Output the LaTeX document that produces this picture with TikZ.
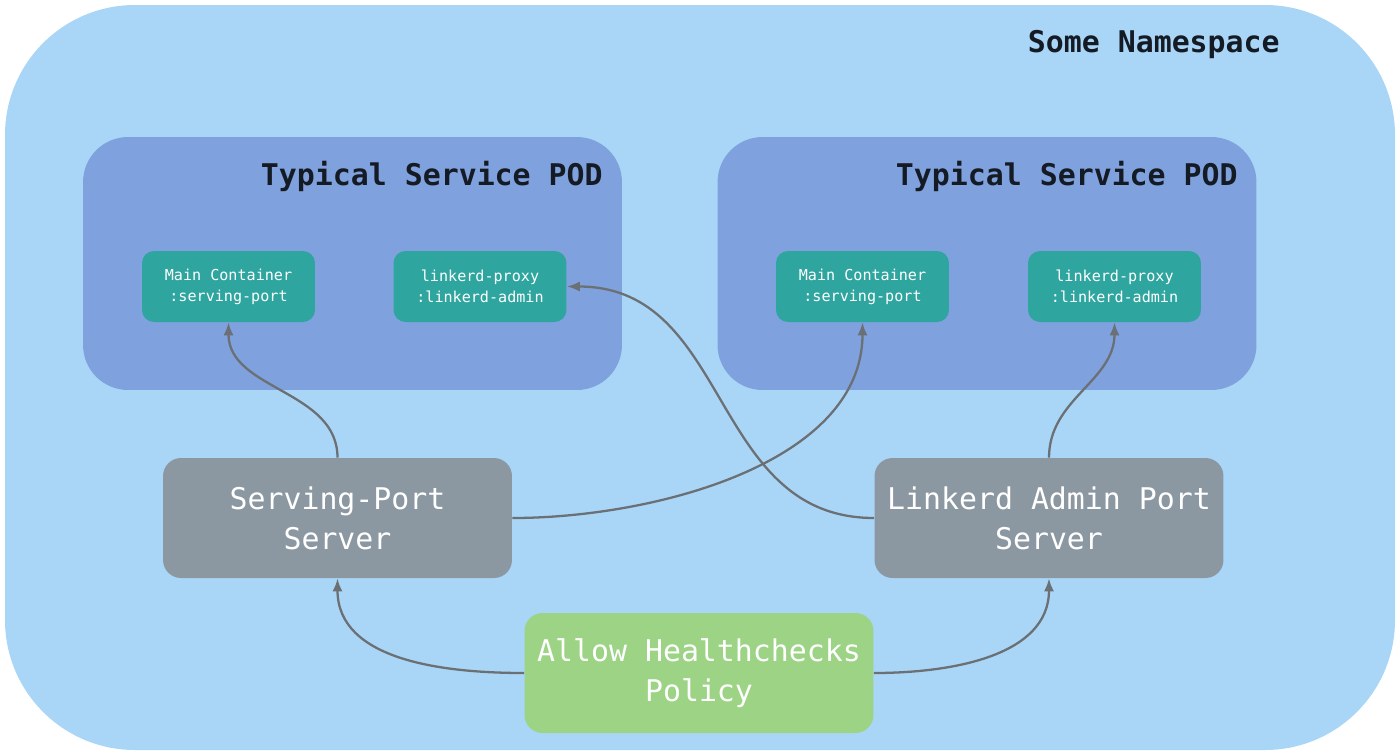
\documentclass[tikz,border=0pt]{standalone}
\usepackage{fontspec}
\setmonofont{DejaVu Sans Mono}
\usetikzlibrary{arrows.meta}
\tikzset{>=latex}

\definecolor{nsblue}{HTML}{A9D6F6}
\definecolor{podblue}{HTML}{7FA1DD}
\definecolor{ctrteal}{HTML}{2EA59F}
\definecolor{srvgray}{HTML}{8C98A1}
\definecolor{polgreen}{HTML}{9CD385}
\definecolor{linkgray}{HTML}{6B7075}
\definecolor{titleink}{HTML}{151B24}

\tikzset{
  podbox/.style={fill=podblue, rounded corners=0.9cm, minimum width=10.78cm, minimum height=5.06cm, inner sep=0},
  ctrbox/.style={fill=ctrteal, rounded corners=0.24cm, minimum width=3.46cm, minimum height=1.42cm, inner sep=0,
    text=white, align=center, font=\ttfamily\fontsize{8.6}{11.9}\selectfont},
  srvbox/.style={fill=srvgray, rounded corners=0.36cm, minimum width=6.98cm, minimum height=2.4cm, inner sep=0,
    text=white, align=center, font=\ttfamily\fontsize{17}{22.7}\selectfont},
  polbox/.style={srvbox, fill=polgreen},
  boxtitle/.style={anchor=east, inner sep=0, text=titleink, font=\ttfamily\bfseries\fontsize{17}{20}\selectfont},
  link/.style={->, >={Latex[length=2.6mm, width=2mm]}, draw=linkgray, line width=1.3pt}
}

\begin{document}
\begin{tikzpicture}[x=0.02cm, y=-0.02cm]

% Zone de dessin (1400 x 755 px)
\useasboundingbox (0,0) rectangle (1400,755);

% Namespace
\fill [nsblue, rounded corners=2.6cm] (5,5) rectangle (1395,750);
\node [boxtitle] (nstitle) at (1280,45) {Some Namespace};

% Pods
\node [podbox] (pod1) at (352.5,263.5) {};
\node [podbox] (pod2) at (987,263.5) {};
\node [boxtitle] (pod1title) at (603,176) {Typical Service POD};
\node [boxtitle] (pod2title) at (1238,176) {Typical Service POD};

% Containers
\node [ctrbox] (main1) at (228.5,286.5) {Main Container\\:serving-port};
\node [ctrbox] (proxy1) at (480,286.5) {linkerd-proxy\\:linkerd-admin};
\node [ctrbox] (main2) at (862.5,286.5) {Main Container\\:serving-port};
\node [ctrbox] (proxy2) at (1114.5,286.5) {linkerd-proxy\\:linkerd-admin};

% Servers and policy
\node [srvbox] (servsrv) at (337.5,518) {Serving-Port\\Server};
\node [srvbox] (adminsrv) at (1049,518) {Linkerd Admin Port\\Server};
\node [polbox] (policy) at (699,673) {Allow Healthchecks\\Policy};

% Connexions
\draw [link] (servsrv.north) to[out=90, in=-90] (main1.south);
\draw [link] (servsrv.east) to[out=0, in=-90, looseness=0.9] (main2.south);
\draw [link] (adminsrv.west) to[out=180, in=0, looseness=1.1] (proxy1.east);
\draw [link] (adminsrv.north) to[out=90, in=-90] (proxy2.south);
\draw [link] (policy.west) to[out=180, in=-90] (servsrv.south);
\draw [link] (policy.east) to[out=0, in=-90] (adminsrv.south);

\end{tikzpicture}
\end{document}
